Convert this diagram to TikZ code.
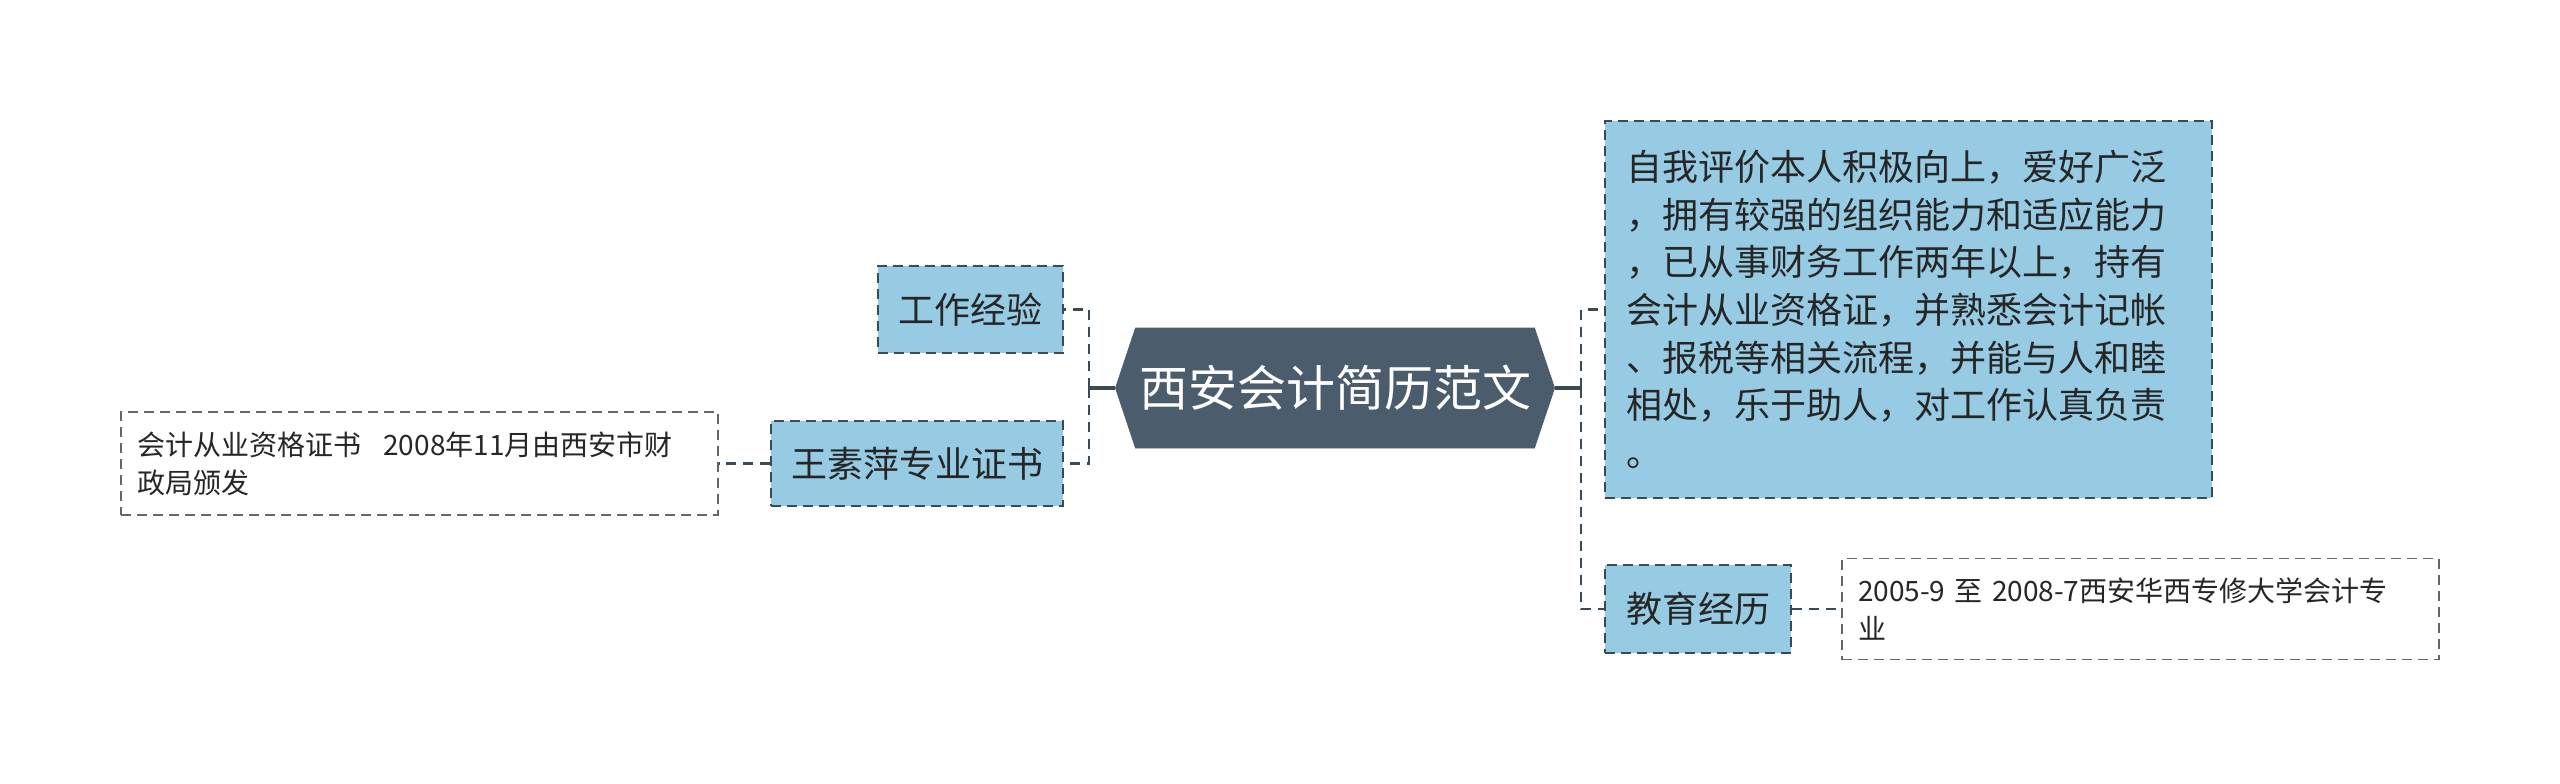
\documentclass[tikz,border=0pt]{standalone}
\usepackage{fontspec}
\newfontfamily\cjk{Noto Sans CJK SC}
\usetikzlibrary{positioning,shapes.symbols}
\definecolor{topicblue}{RGB}{150,203,227}
\definecolor{lineslate}{RGB}{58,74,88}
\definecolor{rootslate}{RGB}{75,92,108}
\definecolor{textdark}{RGB}{38,38,38}

\begin{document}
\begin{tikzpicture}[x=0.5pt,y=-0.5pt,
    root/.style={signal, signal to=west and east, signal pointer angle=143,
                 fill=rootslate, draw=rootslate, text=white, inner sep=0pt,
                 minimum width=219.5pt, minimum height=60pt,
                 font=\cjk\fontsize{24.5}{28}\selectfont},
    topic/.style={draw=lineslate, fill=topicblue, line width=1pt,
                  dash pattern=on 5pt off 3pt, text=textdark, inner sep=0pt,
                  align=left, font=\cjk\fontsize{18}{23.8}\selectfont},
    leaf/.style={draw=black!60, fill=white, line width=0.9pt,
                 dash pattern=on 5pt off 3pt, text=textdark, inner xsep=8pt,
                 text width=282.5pt, minimum width=298.5pt, align=left,
                 font=\cjk\fontsize{14}{18.8}\selectfont},
    link/.style={draw=lineslate, line width=1.4pt, dash pattern=on 5pt off 3.5pt},
    stub/.style={draw=lineslate, line width=1.6pt}
  ]
  \useasboundingbox (0,0) rectangle (2560,783);

  \node[root] (root) at (1335,388) {西安会计简历范文};

  % left side
  \node[topic, minimum width=92.5pt, minimum height=43.5pt] (work) at (970.5,309.5) {工作经验};
  \node[topic, minimum width=146pt, minimum height=42.5pt] (cert) at (917,463.5) {王素萍专业证书};
  \node[leaf, minimum height=51.5pt] (certnote) at (419.5,463.5)
    {会计从业资格证书\hspace{0.8em}2008年11月由西安市财\\政局颁发};

  % right side
  \node[topic, minimum width=303.5pt, minimum height=188.5pt, inner xsep=10.5pt,
        text width=282.5pt] (self) at (1908.5,309.5)
    {自我评价本人积极向上，爱好广泛\\，拥有较强的组织能力和适应能力\\，已从事财务工作两年以上，持有\\会计从业资格证，并熟悉会计记帐\\、报税等相关流程，并能与人和睦\\相处，乐于助人，对工作认真负责\\。};
  \node[topic, minimum width=93pt, minimum height=44pt] (edu) at (1698,609) {教育经历};
  \node[leaf, minimum height=50.5pt] (edunote) at (2140.5,609)
    {2005-9 至 2008-7西安华西专修大学会计专\\业};

  % connectors
  \coordinate (lj) at (1089,388);
  \coordinate (rj) at (1581,388);
  \draw[stub] (root.west) -- (lj);
  \draw[link] (lj) |- (work.east);
  \draw[link] (lj) |- (cert.east);
  \draw[stub] (root.east) -- (rj);
  \draw[link] (rj) |- (self.west);
  \draw[link] (rj) |- (edu.west);
  \draw[link] (cert.west) -- (certnote.east);
  \draw[link] (edu.east) -- (edunote.west);
\end{tikzpicture}
\end{document}
